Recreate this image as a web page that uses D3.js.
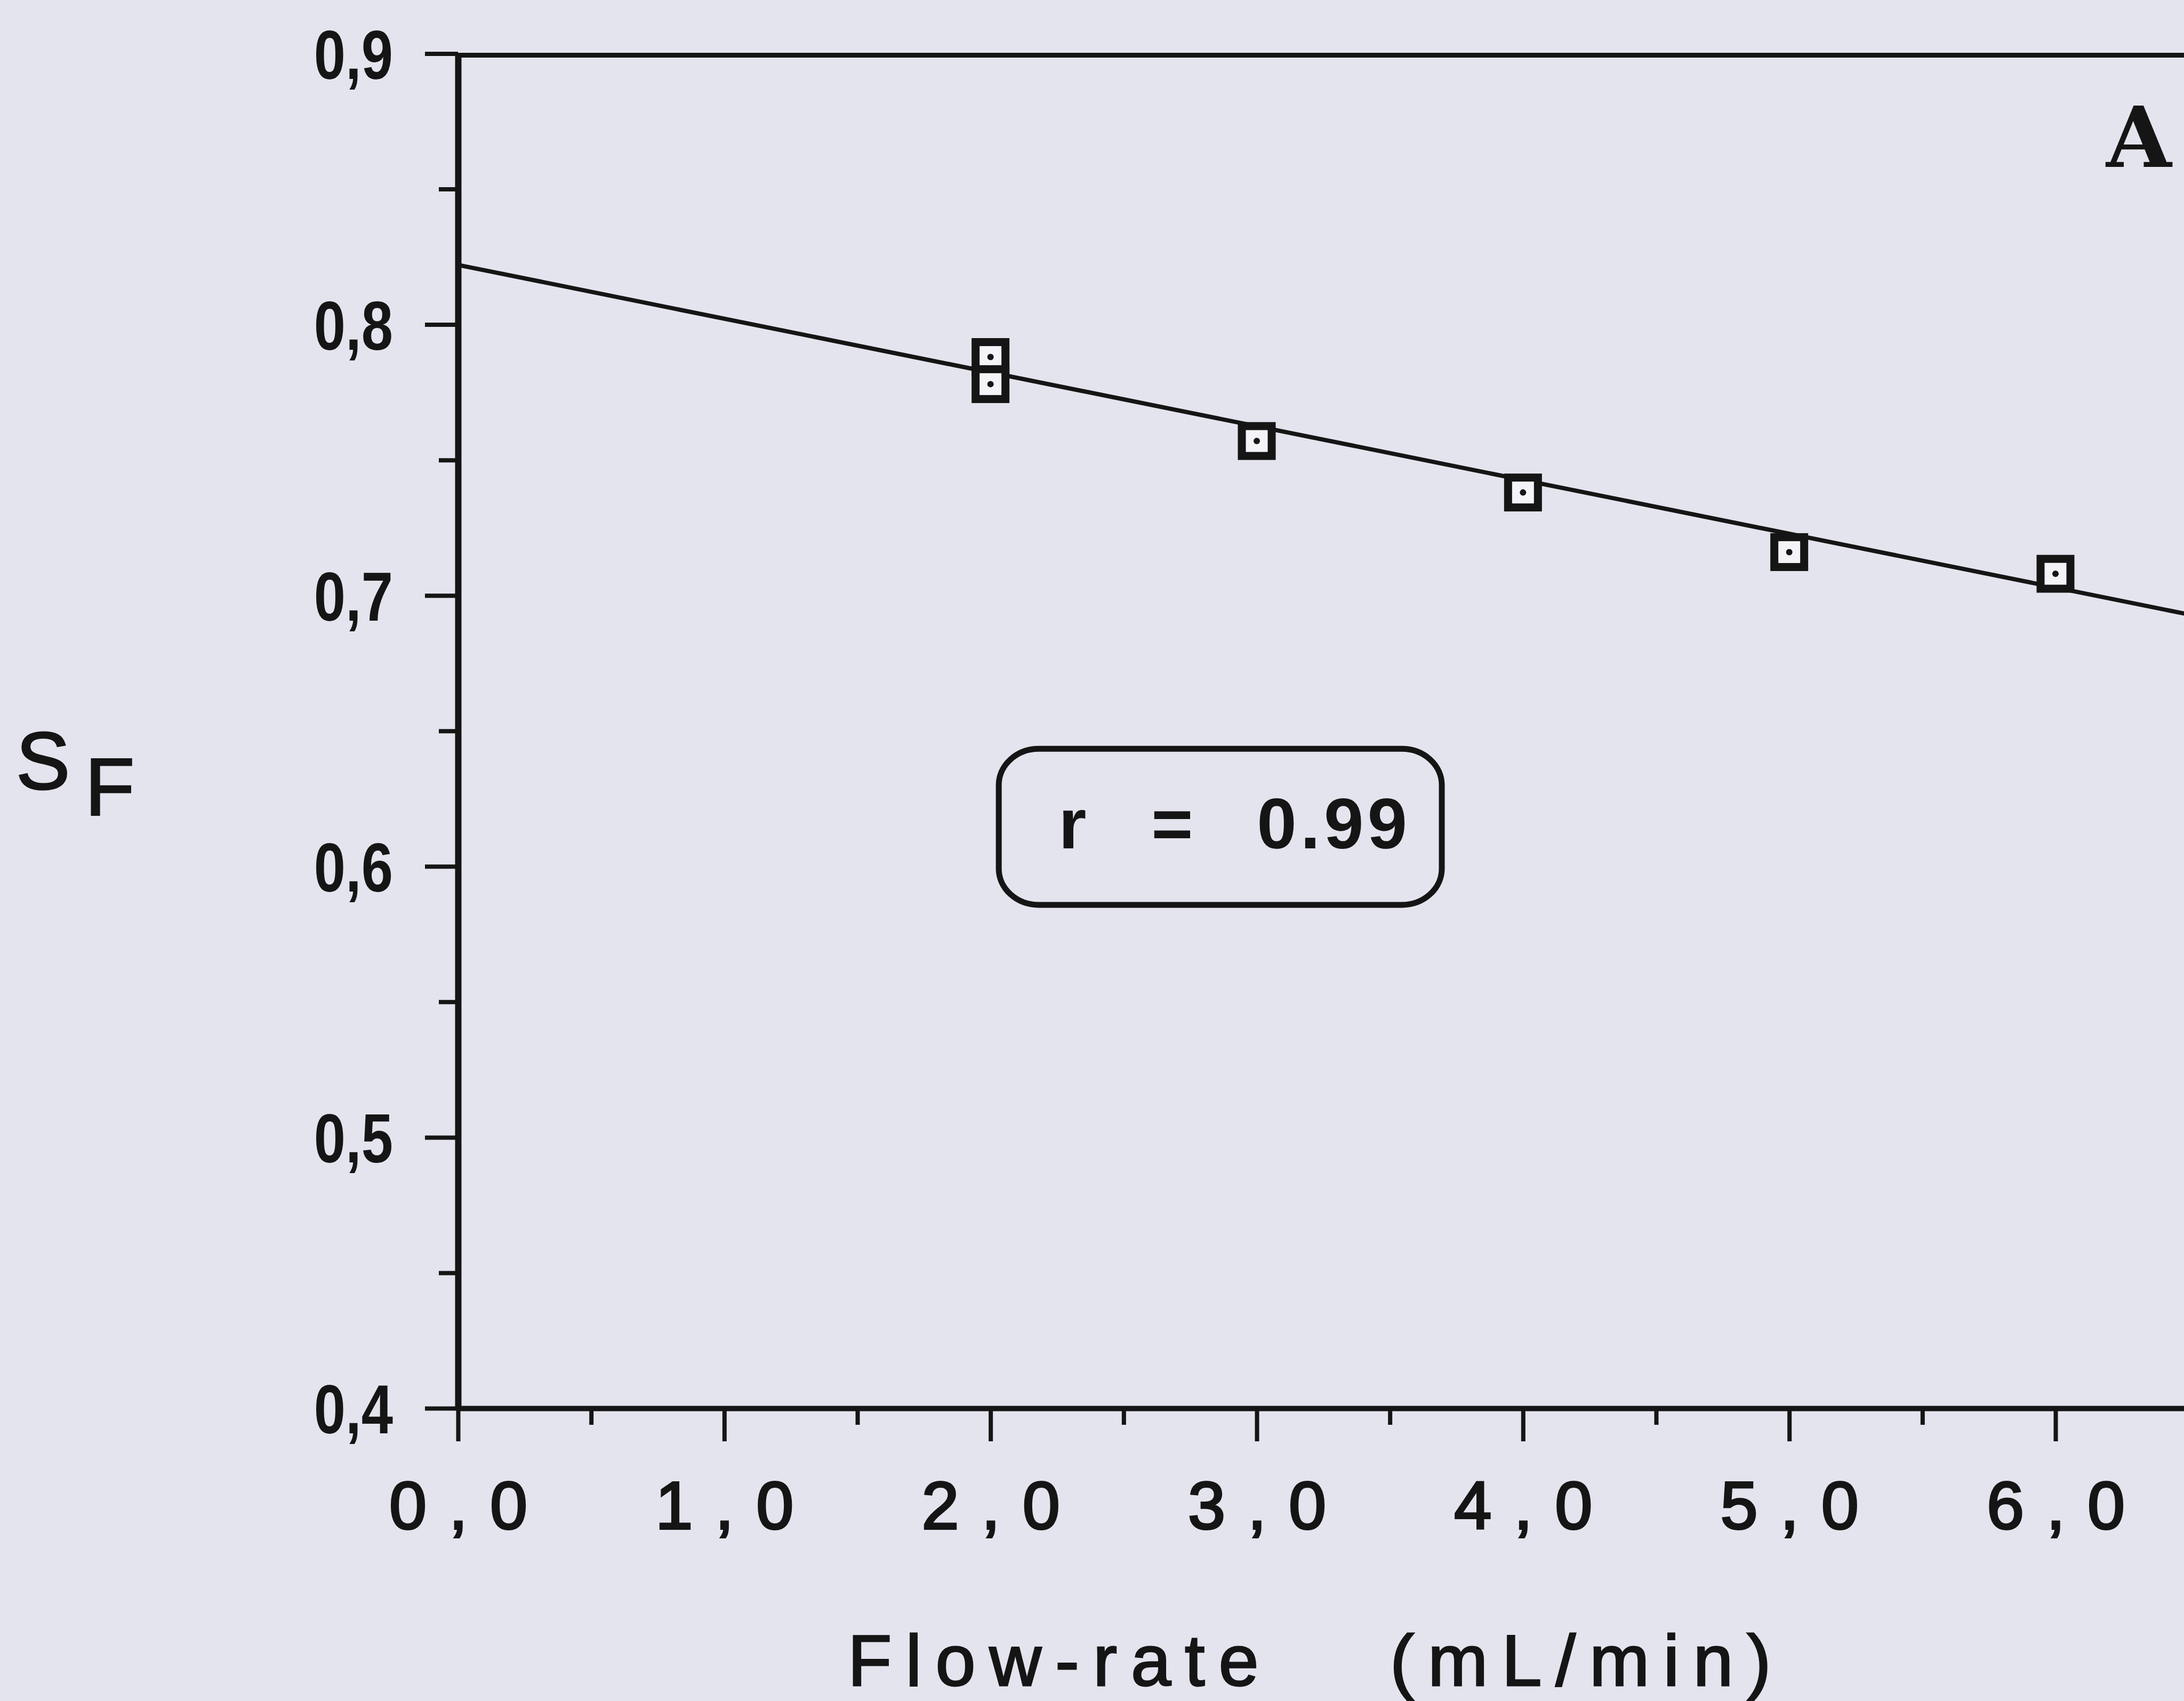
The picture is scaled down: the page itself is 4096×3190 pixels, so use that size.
<!DOCTYPE html>
<html><head><meta charset="utf-8">
<script src="https://cdn.jsdelivr.net/npm/d3@7"></script>
<style>html,body{margin:0;padding:0;background:#e4e4ee;overflow:hidden}</style>
</head><body>
<script>
// ---- data ----
const flowRate = [2, 2, 3, 4, 5, 6];
const sF = [0.788, 0.778, 0.757, 0.738, 0.716, 0.708];
const fitX = [0, 6.5];
const fitY = [0.822, 0.693];
const xTicks = [0, 1, 2, 3, 4, 5, 6];
const xTickLabels = ["0,0", "1,0", "2,0", "3,0", "4,0", "5,0", "6,0"];
const xMinorTicks = [0.5, 1.5, 2.5, 3.5, 4.5, 5.5];
const yTicks = [0.4, 0.5, 0.6, 0.7, 0.8, 0.9];
const yTickLabels = ["0,4", "0,5", "0,6", "0,7", "0,8", "0,9"];
const yMinorTicks = [0.45, 0.55, 0.65, 0.75, 0.85];
const rText = ["r", "=", "0.99"];
const panelLabel = "A";
const xTitleParts = ["Flow-rate", "(mL/min)"];

// ---- layout ----
const W = 4096, H = 3190;
const bg = "#e4e4ee", ink = "#151515";
const svg = d3.select("body").append("svg")
  .attr("width", W).attr("height", H).style("display", "block");
svg.append("rect").attr("width", W).attr("height", H).attr("fill", bg);

const x0 = 859, x6 = 3855;
const x = d3.scaleLinear().domain([0, 6.5]).range([x0, x0 + 6.5 * (x6 - x0) / 6]);
const y = d3.scaleLinear().domain([0.4, 0.9]).range([2641, 100.5]);

const sans = "'Liberation Sans', Arial, sans-serif";

// top frame line
svg.append("line")
  .attr("x1", x(0)).attr("x2", x(6.5)).attr("y1", y(0.9) + 3).attr("y2", y(0.9) + 3)
  .attr("stroke", ink).attr("stroke-width", 9);

// y axis (major)
const gy = svg.append("g").attr("transform", `translate(${x(0)},0)`)
  .call(d3.axisLeft(y).tickValues(yTicks).tickSize(62).tickSizeOuter(0)
    .tickFormat((d, i) => yTickLabels[i]));
gy.select(".domain").attr("stroke", ink).attr("stroke-width", 12);
gy.selectAll(".tick line").attr("stroke", ink).attr("stroke-width", 8);
gy.selectAll(".tick text")
  .attr("fill", ink).attr("font-family", sans).attr("font-weight", "bold")
  .attr("font-size", 130).attr("text-anchor", "end")
  .attr("x", -122 / 0.82).attr("dy", "0.36em")
  .attr("transform", "scale(0.82,1)");
// y axis (minor)
const gym = svg.append("g").attr("transform", `translate(${x(0)},0)`)
  .call(d3.axisLeft(y).tickValues(yMinorTicks).tickSize(36).tickSizeOuter(0).tickFormat(""));
gym.select(".domain").remove();
gym.selectAll(".tick line").attr("stroke", ink).attr("stroke-width", 8);

// x axis (major)
const gx = svg.append("g").attr("transform", `translate(0,${y(0.4)})`)
  .call(d3.axisBottom(x).tickValues(xTicks).tickSize(62).tickSizeOuter(0)
    .tickFormat((d, i) => xTickLabels[i]));
gx.select(".domain").attr("stroke", ink).attr("stroke-width", 10);
gx.selectAll(".tick line").attr("stroke", ink).attr("stroke-width", 8);
gx.selectAll(".tick text")
  .attr("fill", ink).attr("stroke", ink).attr("stroke-width", 4)
  .attr("font-family", sans).attr("font-size", 126)
  .attr("letter-spacing", 42).attr("y", 226).attr("dy", 0).attr("dx", 21);
// x axis (minor)
const gxm = svg.append("g").attr("transform", `translate(0,${y(0.4)})`)
  .call(d3.axisBottom(x).tickValues(xMinorTicks).tickSize(31).tickSizeOuter(0).tickFormat(""));
gxm.select(".domain").remove();
gxm.selectAll(".tick line").attr("stroke", ink).attr("stroke-width", 8);

// regression line
const line = d3.line().x(d => x(d[0])).y(d => y(d[1]));
svg.append("path")
  .datum(fitX.map((v, i) => [v, fitY[i]]))
  .attr("d", line).attr("fill", "none").attr("stroke", ink).attr("stroke-width", 8);

// markers
const pts = flowRate.map((v, i) => [v, sF[i]]);
const mk = svg.append("g").selectAll("g").data(pts).join("g")
  .attr("transform", d => `translate(${x(d[0])},${y(d[1])})`);
mk.append("rect").attr("x", -28).attr("y", -28).attr("width", 56).attr("height", 56)
  .attr("fill", "#f3f3f8").attr("stroke", ink).attr("stroke-width", 15);
mk.append("circle").attr("r", 6).attr("fill", ink);

// r = 0.99 box (anchored in data units)
const bx0 = x(2.031), bx1 = x(3.695), by0 = y(0.6434), by1 = y(0.5858);
svg.append("rect").attr("x", bx0).attr("y", by0)
  .attr("width", bx1 - bx0).attr("height", by1 - by0)
  .attr("rx", 75).attr("ry", 68)
  .attr("fill", "none").attr("stroke", ink).attr("stroke-width", 11);
const rt = svg.append("text").attr("y", by0 + 187)
  .attr("font-family", sans).attr("font-weight", "bold").attr("font-size", 134).attr("fill", ink);
rt.append("tspan").attr("x", bx0 + 112).text(rText[0]);
rt.append("tspan").attr("x", bx0 + 286).text(rText[1]);
rt.append("tspan").attr("x", bx0 + 484).attr("letter-spacing", 7).text(rText[2]);

// panel label
svg.append("text").attr("x", 3950).attr("y", 313)
  .attr("font-family", "'DejaVu Serif', serif").attr("font-weight", "bold")
  .attr("font-size", 158).attr("fill", ink).text(panelLabel);

// y title S_F
const yt = svg.append("text").attr("x", 30).attr("y", 1480)
  .attr("font-family", sans).attr("font-size", 152).attr("fill", ink)
  .attr("stroke", ink).attr("stroke-width", 3);
yt.append("tspan").text("S");
yt.append("tspan").attr("dx", 28).attr("dy", 48).text("F");

// x title
const xt = svg.append("text").attr("y", 3161)
  .attr("font-family", sans).attr("font-size", 135).attr("fill", ink)
  .attr("stroke", ink).attr("stroke-width", 3)
  .attr("letter-spacing", 26);
xt.append("tspan").attr("x", 1590).text(xTitleParts[0]);
xt.append("tspan").attr("x", 2607).text(xTitleParts[1]);
</script>
</body></html>
